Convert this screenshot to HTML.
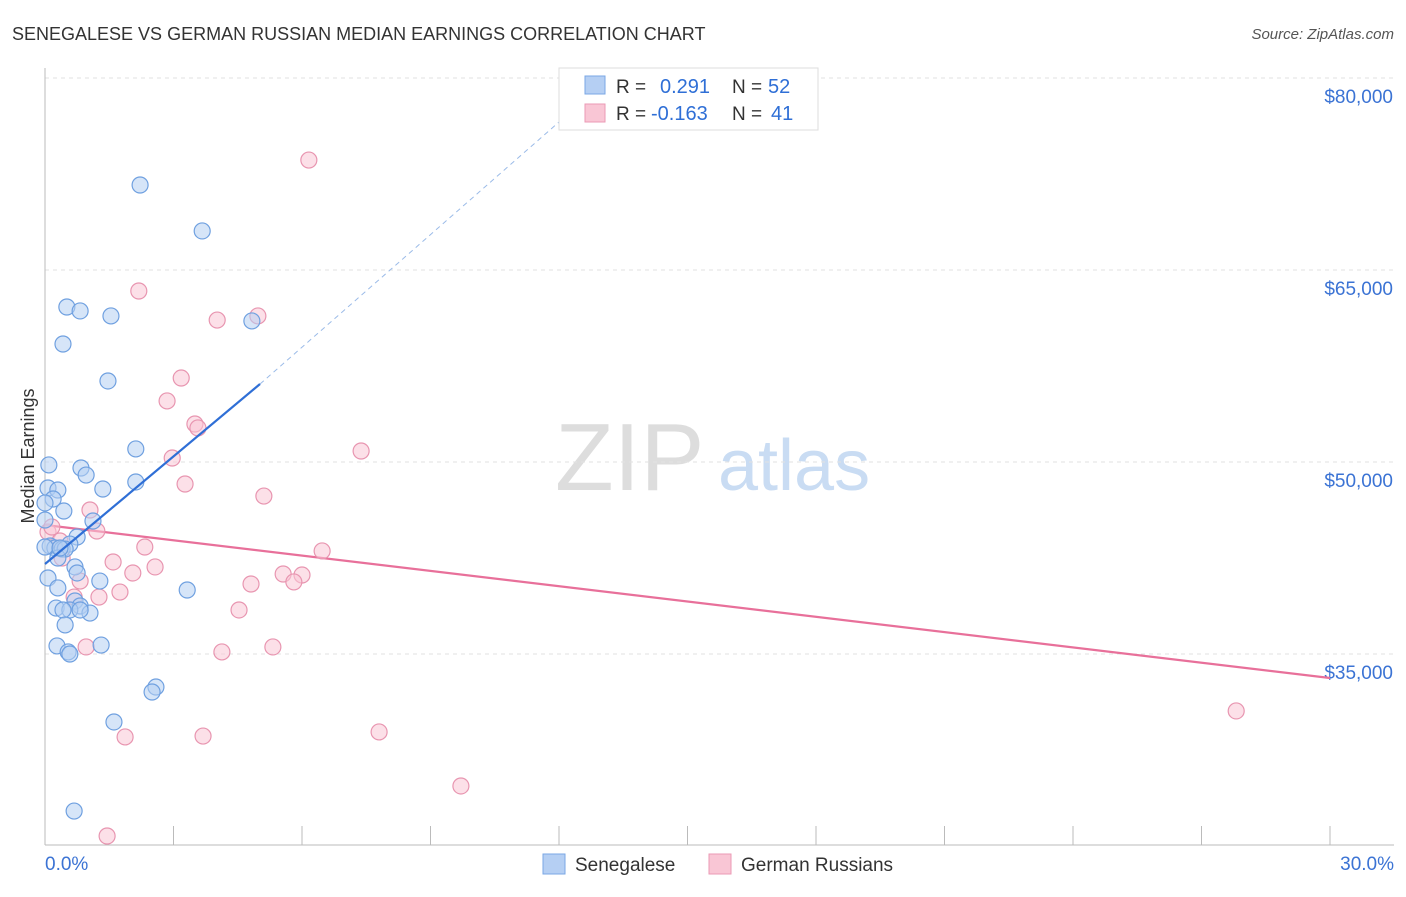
<!DOCTYPE html>
<html><head><meta charset="utf-8"><style>
body{margin:0;background:#fff;font-family:"Liberation Sans",sans-serif}
svg text{font-family:"Liberation Sans",sans-serif}
</style></head><body>
<svg id="chart" width="1406" height="892" xmlns="http://www.w3.org/2000/svg">
<text x="12" y="40" font-size="18" fill="#333">SENEGALESE VS GERMAN RUSSIAN MEDIAN EARNINGS CORRELATION CHART</text>
<text x="1394" y="39" font-size="15" fill="#555" font-style="italic" text-anchor="end">Source: ZipAtlas.com</text>
<text x="555" y="490" font-size="96" fill="#ddd" font-family="Liberation Serif">ZIP</text>
<text x="718" y="490" font-size="72" fill="#c9dcf3">atlas</text>
<g id="grid"></g>
<g id="axes"></g>
<text transform="translate(34,456) rotate(-90)" font-size="18" fill="#333" text-anchor="middle">Median Earnings</text>
<g id="lines"></g>
<g id="points"></g>
<g>
<rect x="559" y="68" width="259" height="62" fill="#fff" stroke="#ddd"/>
<rect x="585" y="76" width="20" height="18" fill="#b5cff3" stroke="#7aa7e4"/>
<text x="616" y="93" font-size="19" fill="#333">R = </text><text x="660" y="93" font-size="20" fill="#2f6fd6">0.291</text>
<text x="732" y="93" font-size="19" fill="#333">N = </text><text x="768" y="93" font-size="20" fill="#2f6fd6">52</text>
<rect x="585" y="104" width="20" height="18" fill="#f9c6d5" stroke="#eb9ab5"/>
<text x="616" y="120" font-size="19" fill="#333">R = </text><text x="651" y="120" font-size="20" fill="#2f6fd6">-0.163</text>
<text x="732" y="120" font-size="19" fill="#333">N = </text><text x="771" y="120" font-size="20" fill="#2f6fd6">41</text>
</g>
<g>
<rect x="543" y="854" width="22" height="20" fill="#b5cff3" stroke="#7aa7e4"/>
<text x="575" y="871" font-size="19" fill="#333">Senegalese</text>
<rect x="709" y="854" width="22" height="20" fill="#f9c6d5" stroke="#eb9ab5"/>
<text x="741" y="871" font-size="19" fill="#333">German Russians</text>
</g>
</svg>
<script>
const yTicks=[80000,65000,50000,35000];
const yTickLabels=["$80,000","$65,000","$50,000","$35,000"];
const xTickLabels=["0.0%","30.0%"];
const blueX=[2.22,3.67,0.51,0.82,1.54,4.83,0.42,1.47,2.12,0.09,0.84,0.96,2.12,1.35,0.07,0.30,0.19,0.0,0.44,1.12,0.0,0.75,0.58,0.12,0.23,0.40,0.47,0.30,0.70,0.75,0.07,1.28,3.32,0.30,0.70,0.82,0.26,0.58,0.42,1.05,0.82,0.47,0.28,1.31,0.54,0.58,2.59,2.50,1.61,0.68,0.0,0.35];
const blueY=[71640,68050,62110,61800,61410,61020,59220,56330,51020,49770,49530,48980,48440,47890,47970,47810,47110,46800,46170,45390,45470,44140,43590,43440,43280,43200,43200,42500,41800,41330,40940,40700,40000,40160,39140,38750,38590,38440,38440,38200,38440,37270,35630,35700,35160,35000,32420,32030,29690,22730,43360,43280];
const pinkX=[6.16,2.19,4.97,4.02,3.18,2.85,3.50,3.57,2.97,7.38,3.27,5.11,1.05,1.21,0.07,0.35,2.33,6.47,0.40,1.59,2.57,2.05,5.56,6.00,5.81,0.82,4.81,1.75,1.26,4.53,0.68,0.96,4.13,5.32,1.87,3.69,7.80,9.71,1.45,27.81,0.16];
const pinkY=[73590,63360,61410,61090,56560,54770,52970,52660,50310,50860,48280,47340,46250,44610,44530,43830,43360,43050,42500,42190,41800,41330,41250,41170,40630,40700,40470,39840,39450,38440,39450,35550,35160,35550,28520,28590,28910,24690,20780,30550,44920];
const blueTrend=[0,42031,5.02,56094,12.72,78672];
const pinkTrend=[0,45078,30,33125];
const X=v=>45+v*(1285/30), Y=v=>78+(80000-v)*192/15000;
const NS="http://www.w3.org/2000/svg";
function mk(p,t,a){const e=document.createElementNS(NS,t);for(const k in a)e.setAttribute(k,a[k]);p.appendChild(e);return e;}
const grid=document.getElementById('grid'),axes=document.getElementById('axes'),lines=document.getElementById('lines'),pts=document.getElementById('points');
yTicks.forEach((v,i)=>{
 const l=mk(grid,'line',{x1:45,x2:1394,y1:Y(v),y2:Y(v),stroke:'#e2e2e2','stroke-dasharray':'4,4'});
 
 const t=mk(axes,'text',{x:1393,y:Y(v)+25,'font-size':19,fill:'#3b73d4','text-anchor':'end'});t.textContent=yTickLabels[i];
 
});
let a=mk(axes,'line',{x1:45,x2:45,y1:68,y2:845,stroke:'#bbb'});
a=mk(axes,'line',{x1:45,x2:1394,y1:845,y2:845,stroke:'#bbb'});
for(let i=0;i<=10;i++){const t=mk(axes,'line',{x1:X(i*3),x2:X(i*3),y1:826,y2:845,stroke:'#bbb'});}
let t=mk(axes,'text',{x:45,y:870,'font-size':19,fill:'#3b73d4'});t.textContent=xTickLabels[0];
t=mk(axes,'text',{x:1394,y:870,'font-size':19,fill:'#3b73d4','text-anchor':'end'});t.textContent=xTickLabels[1];
function dot(x,y,f,s,n){const c=mk(pts,'circle',{cx:X(x),cy:Y(y),r:8,fill:f,'fill-opacity':0.55,stroke:s,'stroke-width':1.2});}
pinkX.forEach((x,i)=>dot(x,pinkY[i],'#f9c6d5','#e895b0','german-russian-point'));
blueX.forEach((x,i)=>dot(x,blueY[i],'#b5cff3','#6fa0e0','senegalese-point'));
let l=mk(lines,'line',{x1:X(blueTrend[2]),y1:Y(blueTrend[3]),x2:X(blueTrend[4]),y2:Y(blueTrend[5]),stroke:'#9bbbe8','stroke-dasharray':'5,4','stroke-width':1});

l=mk(lines,'line',{x1:X(pinkTrend[0]),y1:Y(pinkTrend[1]),x2:X(pinkTrend[2]),y2:Y(pinkTrend[3]),stroke:'#e8709a','stroke-width':2.2});

l=mk(pts,'line',{x1:X(blueTrend[0]),y1:Y(blueTrend[1]),x2:X(blueTrend[2]),y2:Y(blueTrend[3]),stroke:'#2f6fd6','stroke-width':2.2});

</script>
</body></html>
